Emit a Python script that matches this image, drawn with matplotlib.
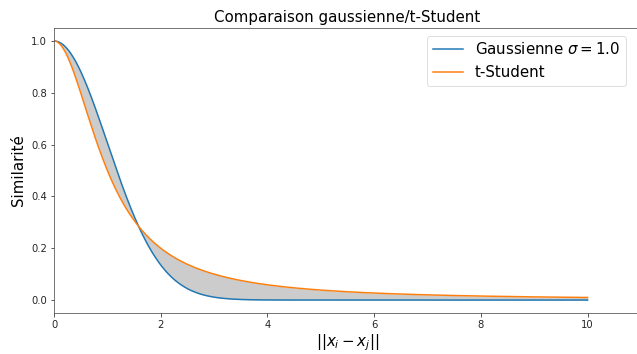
import numpy as np
import matplotlib
matplotlib.use("Agg")
import matplotlib.pyplot as plt

# Chart parameters (the curves are the two similarity kernels)
sigma = 1.0
x_start, x_end, n_points = 0.0, 10.0, 500
title = "Comparaison gaussienne/t-Student"
labels = [r"Gaussienne $\sigma = 1.0$", "t-Student"]
xlabel = r"$||x_i - x_j||$"
ylabel = "Similarité"

x = np.linspace(x_start, x_end, n_points)
gauss = np.exp(-x**2 / (2 * sigma**2))
student = 1.0 / (1.0 + x**2)

s = 0.72
fig = plt.figure(figsize=(6.37, 3.54), dpi=100)
ax = fig.add_axes([54/637, 41/354, (641-54)/637, (313-28)/354])
ax.plot(x, gauss, color="#1f77b4", lw=1.5*s, label=labels[0])
ax.plot(x, student, color="#ff7f0e", lw=1.5*s, label=labels[1])
ax.fill_between(x, gauss, student, color="grey", alpha=0.4, lw=0)
ax.set_xlim(0, 11)
ax.set_ylim(-0.05, 1.05)
ax.set_xticks([0, 2, 4, 6, 8, 10])
ax.set_yticks([0.0, 0.2, 0.4, 0.6, 0.8, 1.0])
ax.tick_params(labelsize=10*s, width=0.8*s, length=3.5*s, pad=3.5*s, colors="#333333", labelcolor="#262626")
for sp in ax.spines.values():
    sp.set_linewidth(0.8*s)
    sp.set_color("#555555")
ax.set_title(title, fontsize=15*s, pad=6*s)
ax.set_xlabel(xlabel, fontsize=15*s, labelpad=2)
ax.set_ylabel(ylabel, fontsize=15*s, labelpad=4)
leg = ax.legend(fontsize=15*s, loc="upper right", bbox_to_anchor=(633/641*1.0 - 0.0, 1.0),
                bbox_transform=ax.transAxes, borderaxespad=0.5, handlelength=2.0)
leg.get_frame().set_linewidth(0.8*s)
fig.savefig("out.png", dpi=100)
